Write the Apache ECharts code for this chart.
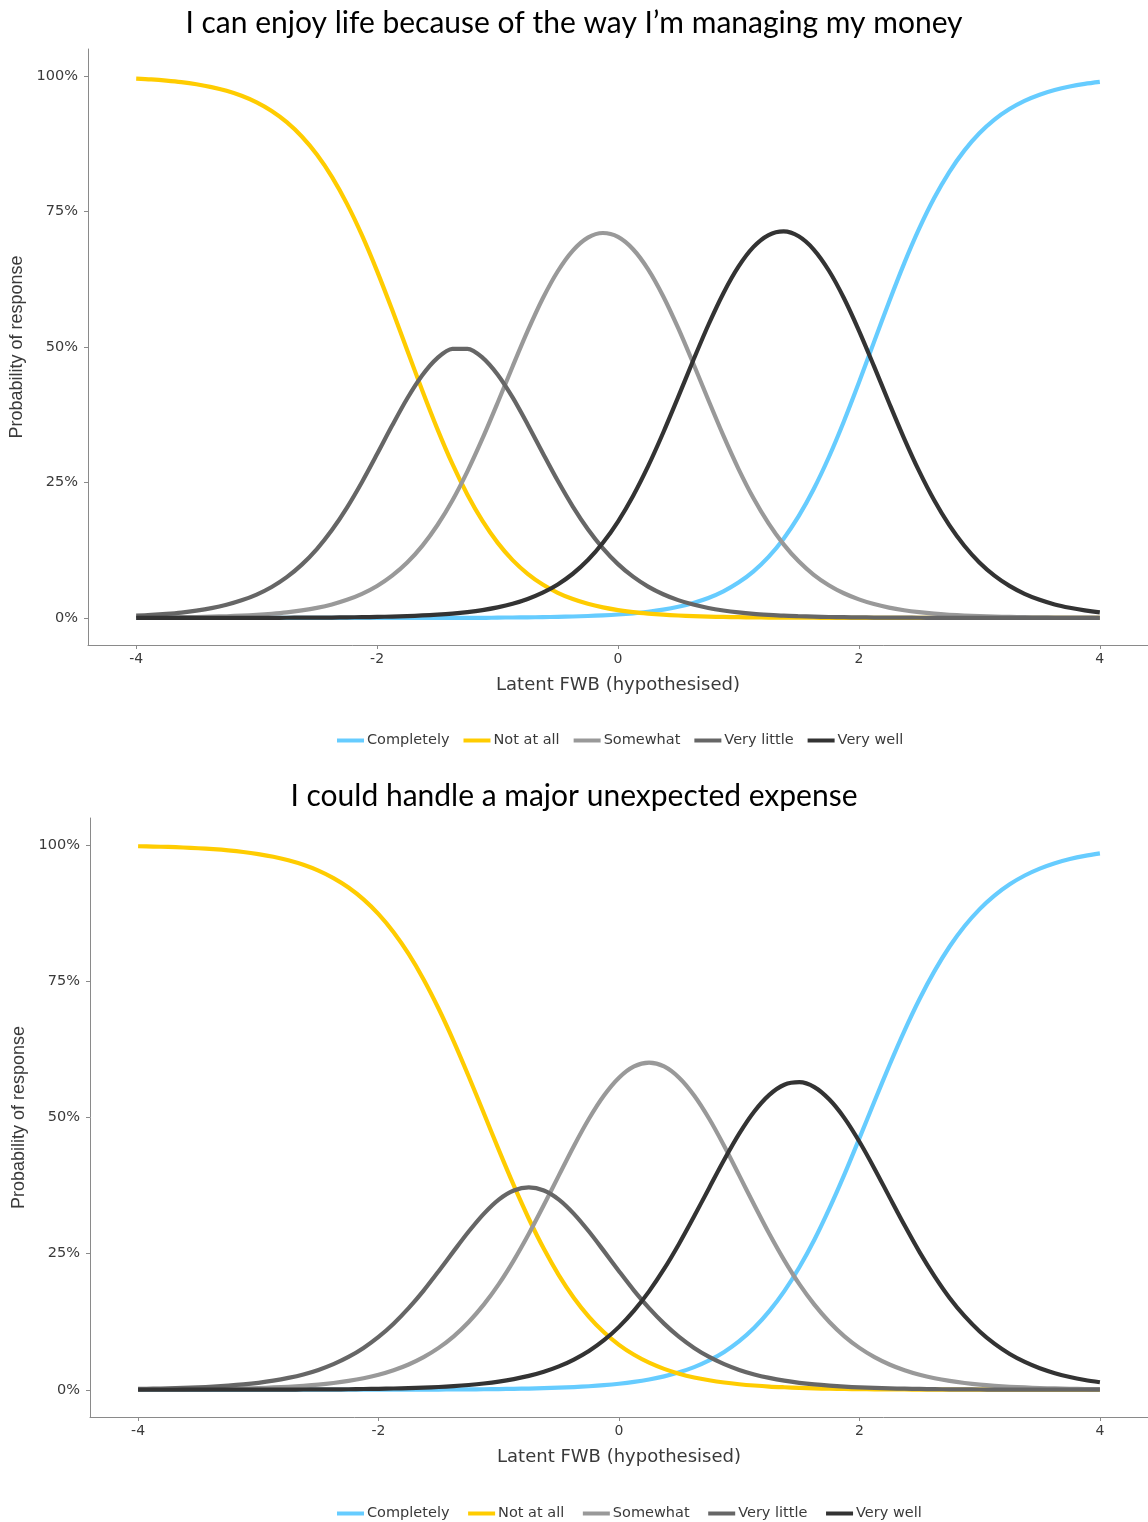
<!DOCTYPE html>
<html>
<head>
<meta charset="utf-8">
<script src="https://cdn.jsdelivr.net/npm/echarts@6/dist/echarts.min.js"></script>
<style>
  html, body { margin: 0; padding: 0; background: #ffffff; }
  #chart { width: 1148px; height: 1522px; }
</style>
</head>
<body>
<div id="chart"></div>
<script>
// ---------- DATA ----------
const titles = [
  "I can enjoy life because of the way I\u2019m managing my money",
  "I could handle a major unexpected expense"
];
const seriesNames = ["Completely", "Not at all", "Somewhat", "Very little", "Very well"];
const xTickValues = [-4, -2, 0, 2, 4];
const yTickValues = [0, 0.25, 0.5, 0.75, 1];
const xLabel = "Latent FWB (hypothesised)";
const yLabel = "Probability of response";

const xValues = [
  -4, -3.875, -3.75, -3.625, -3.5, -3.375, -3.25, -3.125,
  -3, -2.875, -2.75, -2.625, -2.5, -2.375, -2.25, -2.125,
  -2, -1.875, -1.75, -1.625, -1.5, -1.375, -1.25, -1.125,
  -1, -0.875, -0.75, -0.625, -0.5, -0.375, -0.25, -0.125,
  0, 0.125, 0.25, 0.375, 0.5, 0.625, 0.75, 0.875,
  1, 1.125, 1.25, 1.375, 1.5, 1.625, 1.75, 1.875,
  2, 2.125, 2.25, 2.375, 2.5, 2.625, 2.75, 2.875,
  3, 3.125, 3.25, 3.375, 3.5, 3.625, 3.75, 3.875,
  4];

// Chart 1: "I can enjoy life..."
const enjoyCompletely = [
  0, 0, 0, 0, 0, 0, 0, 0,
  0, 0, 0, 0, 0, 0, 0, 0,
  0, 0, 0, 0, 0, 0, 0, 0,
  0.0006, 0.0008, 0.0010, 0.0014, 0.0019, 0.0026, 0.0035, 0.0047,
  0.0063, 0.0085, 0.0114, 0.0153, 0.0206, 0.0276, 0.0368, 0.0491,
  0.0652, 0.0860, 0.1127, 0.1463, 0.1878, 0.2379, 0.2965, 0.3626,
  0.4344, 0.5090, 0.5832, 0.6539, 0.7183, 0.7749, 0.8229, 0.8625,
  0.8944, 0.9196, 0.9391, 0.9542, 0.9656, 0.9743, 0.9808, 0.9857,
  0.9894];
const enjoyNotAtAll = [
  0.9954, 0.9938, 0.9916, 0.9888, 0.9849, 0.9797, 0.9728, 0.9636,
  0.9515, 0.9356, 0.9150, 0.8885, 0.8552, 0.8140, 0.7642, 0.7060,
  0.6401, 0.5686, 0.4940, 0.4197, 0.3489, 0.2841, 0.2273, 0.1789,
  0.1390, 0.1067, 0.0814, 0.0616, 0.0464, 0.0348, 0.0260, 0.0194,
  0.0144, 0.0107, 0.0080, 0.0059, 0.0044, 0.0033, 0.0024, 0.0018,
  0.0013, 0.0010, 0.0007, 0.0005, 0.0004, 0.0003, 0.0002, 0.0002,
  0.0001, 0.0001, 0.0001, 0, 0, 0, 0, 0,
  0, 0, 0, 0, 0, 0, 0, 0,
  0];
const enjoySomewhat = [
  0.0005, 0.0007, 0.0009, 0.0013, 0.0017, 0.0023, 0.0031, 0.0042,
  0.0057, 0.0077, 0.0103, 0.0139, 0.0186, 0.0249, 0.0334, 0.0445,
  0.0590, 0.0780, 0.1022, 0.1330, 0.1710, 0.2168, 0.2706, 0.3312,
  0.3967, 0.4641, 0.5296, 0.5894, 0.6398, 0.6780, 0.7019, 0.7104,
  0.7032, 0.6805, 0.6434, 0.5938, 0.5347, 0.4695, 0.4021, 0.3363,
  0.2752, 0.2208, 0.1744, 0.1357, 0.1044, 0.0796, 0.0604, 0.0455,
  0.0342, 0.0255, 0.0190, 0.0142, 0.0106, 0.0078, 0.0058, 0.0043,
  0.0032, 0.0024, 0.0018, 0.0013, 0.0010, 0.0007, 0.0005, 0.0004,
  0.0003];
const enjoyVeryLittle = [
  0.0041, 0.0055, 0.0074, 0.0099, 0.0134, 0.0180, 0.0242, 0.0324,
  0.0431, 0.0571, 0.0752, 0.0983, 0.1270, 0.1621, 0.2037, 0.2510,
  0.3024, 0.3550, 0.4050, 0.4479, 0.4795, 0.4965, 0.4967, 0.4805,
  0.4493, 0.4069, 0.3571, 0.3045, 0.2530, 0.2055, 0.1637, 0.1284,
  0.0993, 0.0761, 0.0578, 0.0437, 0.0328, 0.0246, 0.0183, 0.0137,
  0.0102, 0.0076, 0.0057, 0.0041, 0.0031, 0.0023, 0.0017, 0.0013,
  0.0010, 0.0007, 0.0005, 0.0004, 0.0003, 0.0002, 0.0002, 0.0001,
  0.0001, 0.0001, 0, 0, 0, 0, 0, 0,
  0];
const enjoyVeryWell = [
  0, 0, 0, 0, 0, 0.0001, 0.0001, 0.0001,
  0.0002, 0.0002, 0.0003, 0.0004, 0.0006, 0.0007, 0.0010, 0.0014,
  0.0018, 0.0025, 0.0033, 0.0045, 0.0060, 0.0080, 0.0108, 0.0145,
  0.0195, 0.0261, 0.0350, 0.0466, 0.0618, 0.0815, 0.1068, 0.1386,
  0.1779, 0.2251, 0.2801, 0.3418, 0.4079, 0.4755, 0.5406, 0.5993,
  0.6482, 0.6847, 0.7066, 0.7133, 0.7043, 0.6799, 0.6412, 0.5905,
  0.5304, 0.4647, 0.3972, 0.3315, 0.2708, 0.2170, 0.1711, 0.1331,
  0.1023, 0.0780, 0.0591, 0.0445, 0.0334, 0.0249, 0.0187, 0.0139,
  0.0103];

// Chart 2: "I could handle a major unexpected expense"
const expenseCompletely = [
  0, 0, 0, 0, 0, 0, 0, 0,
  0, 0, 0, 0, 0, 0, 0, 0,
  0.0002, 0.0002, 0.0003, 0.0003, 0.0004, 0.0006, 0.0007, 0.0010,
  0.0013, 0.0017, 0.0022, 0.0029, 0.0038, 0.0049, 0.0065, 0.0085,
  0.0111, 0.0145, 0.0189, 0.0246, 0.0321, 0.0416, 0.0539, 0.0695,
  0.0893, 0.1139, 0.1444, 0.1811, 0.2250, 0.2755, 0.3331, 0.3956,
  0.4621, 0.5297, 0.5965, 0.6597, 0.7177, 0.7692, 0.8140, 0.8516,
  0.8827, 0.9080, 0.9283, 0.9444, 0.9570, 0.9669, 0.9746, 0.9805,
  0.9850];
const expenseNotAtAll = [
  0.9981, 0.9975, 0.9968, 0.9958, 0.9944, 0.9927, 0.9905, 0.9876,
  0.9837, 0.9788, 0.9723, 0.9640, 0.9533, 0.9396, 0.9223, 0.9005,
  0.8734, 0.8402, 0.8004, 0.7536, 0.6997, 0.6399, 0.5754, 0.5082,
  0.4405, 0.3752, 0.3141, 0.2588, 0.2102, 0.1687, 0.1340, 0.1055,
  0.0825, 0.0642, 0.0497, 0.0384, 0.0295, 0.0226, 0.0174, 0.0133,
  0.0102, 0.0078, 0.0059, 0.0046, 0.0035, 0.0026, 0.0020, 0.0015,
  0.0012, 0.0009, 0.0007, 0.0005, 0.0004, 0.0003, 0.0002, 0.0002,
  0.0001, 0.0001, 0.0001, 0, 0, 0, 0, 0,
  0];
const expenseSomewhat = [
  0.0004, 0.0005, 0.0006, 0.0008, 0.0011, 0.0014, 0.0019, 0.0025,
  0.0032, 0.0043, 0.0056, 0.0073, 0.0095, 0.0125, 0.0163, 0.0212,
  0.0276, 0.0359, 0.0465, 0.0600, 0.0769, 0.0982, 0.1245, 0.1563,
  0.1939, 0.2376, 0.2864, 0.3392, 0.3938, 0.4478, 0.4977, 0.5404,
  0.5731, 0.5938, 0.6008, 0.5938, 0.5731, 0.5404, 0.4977, 0.4478,
  0.3938, 0.3392, 0.2864, 0.2376, 0.1939, 0.1563, 0.1245, 0.0982,
  0.0769, 0.0600, 0.0465, 0.0359, 0.0276, 0.0212, 0.0163, 0.0125,
  0.0095, 0.0073, 0.0056, 0.0043, 0.0032, 0.0025, 0.0019, 0.0014,
  0.0011];
const expenseVeryLittle = [
  0.0015, 0.0020, 0.0026, 0.0034, 0.0044, 0.0057, 0.0075, 0.0098,
  0.0128, 0.0167, 0.0218, 0.0282, 0.0365, 0.0471, 0.0603, 0.0769,
  0.0971, 0.1214, 0.1499, 0.1822, 0.2178, 0.2546, 0.2906, 0.3231,
  0.3493, 0.3660, 0.3718, 0.3660, 0.3493, 0.3231, 0.2906, 0.2546,
  0.2178, 0.1822, 0.1499, 0.1215, 0.0971, 0.0769, 0.0603, 0.0471,
  0.0365, 0.0282, 0.0218, 0.0167, 0.0128, 0.0098, 0.0075, 0.0057,
  0.0044, 0.0034, 0.0026, 0.0020, 0.0015, 0.0011, 0.0009, 0.0007,
  0.0005, 0.0004, 0.0003, 0.0002, 0.0002, 0.0001, 0.0001, 0.0001,
  0.0001];
const expenseVeryWell = [
  0, 0, 0, 0.0001, 0.0001, 0.0001, 0.0001, 0.0002,
  0.0002, 0.0003, 0.0003, 0.0005, 0.0006, 0.0008, 0.0010, 0.0014,
  0.0017, 0.0023, 0.0030, 0.0039, 0.0051, 0.0067, 0.0088, 0.0115,
  0.0150, 0.0196, 0.0255, 0.0331, 0.0429, 0.0555, 0.0712, 0.0910,
  0.1155, 0.1453, 0.1807, 0.2218, 0.2682, 0.3185, 0.3707, 0.4223,
  0.4702, 0.5109, 0.5415, 0.5601, 0.5648, 0.5558, 0.5329, 0.4989,
  0.4554, 0.4061, 0.3538, 0.3020, 0.2528, 0.2082, 0.1686, 0.1351,
  0.1071, 0.0842, 0.0658, 0.0511, 0.0395, 0.0305, 0.0234, 0.0180,
  0.0138];

// ---------- STYLE ----------
const colors = ["#66ccff", "#ffcc00", "#999999", "#666666", "#333333"];
const wideFont = "'DejaVu Sans', Verdana, sans-serif";
const narrowFont = "'Liberation Sans', Arial, sans-serif";
const axisColor = "#8a8a8a";
const textColor = "#3a3a3a";

const panels = [
  { data: [enjoyCompletely, enjoyNotAtAll, enjoySomewhat, enjoyVeryLittle, enjoyVeryWell],
    grid: { left: 88, top: 49, width: 1060, height: 596 }, titleTop: 3, legendTop: 728 },
  { data: [expenseCompletely, expenseNotAtAll, expenseSomewhat, expenseVeryLittle, expenseVeryWell],
    grid: { left: 90, top: 818, width: 1058, height: 599 }, titleTop: 776, legendTop: 1501 }
];

const pair = (ys) => xValues.map((x, i) => [x, ys[i]]);

const option = {
  backgroundColor: "#ffffff",
  animation: false,
  title: panels.map((p, i) => ({
    text: titles[i], left: "center", top: p.titleTop,
    textStyle: { fontFamily: "Lato, 'Open Sans', sans-serif", fontSize: 30, fontWeight: "normal", color: "#000" }
  })),
  legend: panels.map((p, i) => ({
    data: seriesNames.map(n => ({ name: n + (i ? " " : "") })),
    left: 332, top: p.legendTop,
    icon: "rect", itemWidth: 27, itemHeight: 4, itemGap: 14,
    textStyle: { fontFamily: wideFont, fontSize: 14.5, color: textColor, padding: [0, 0, 0, -2] },
    selectedMode: false
  })),
  grid: panels.map(p => Object.assign({ containLabel: false, outerBoundsMode: "none" }, p.grid)),
  xAxis: panels.map((p, i) => ({
    type: "value", gridIndex: i, min: -4.4, max: 4.4,
    name: xLabel, nameLocation: "middle", nameGap: 31,
    nameTextStyle: { fontFamily: wideFont, fontSize: 18, color: textColor },
    axisLine: { onZero: false, lineStyle: { color: axisColor, width: 1 } },
    axisTick: { show: true, length: 4, customValues: xTickValues, lineStyle: { color: axisColor } },
    axisLabel: { customValues: xTickValues, fontFamily: wideFont, fontSize: 14, color: textColor, margin: 7 },
    splitLine: { show: false }
  })),
  yAxis: panels.map((p, i) => ({
    type: "value", gridIndex: i, min: -0.05, max: 1.05,
    name: yLabel, nameLocation: "middle", nameGap: 60,
    nameTextStyle: { fontFamily: narrowFont, fontSize: 18, color: textColor },
    axisLine: { show: true, onZero: false, lineStyle: { color: axisColor, width: 1 } },
    axisTick: { show: true, length: 4, customValues: yTickValues, lineStyle: { color: axisColor } },
    axisLabel: { customValues: yTickValues, fontFamily: wideFont, fontSize: 14.5, color: textColor, margin: 10,
      formatter: v => Math.round(v * 100) + "%" },
    splitLine: { show: false }
  })),
  series: []
};

panels.forEach((p, gi) => {
  p.data.forEach((ys, si) => {
    option.series.push({
      name: seriesNames[si] + (gi ? " " : ""),
      type: "line", xAxisIndex: gi, yAxisIndex: gi,
      data: pair(ys), smooth: 0.3, showSymbol: false, symbol: "none",
      itemStyle: { color: colors[si] },
      lineStyle: { color: colors[si], width: 4.2, cap: "butt", join: "round" },
      z: 2 + si
    });
  });
});

const chart = echarts.init(document.getElementById("chart"), null, { renderer: "canvas" });
chart.setOption(option);
</script>
</body>
</html>
